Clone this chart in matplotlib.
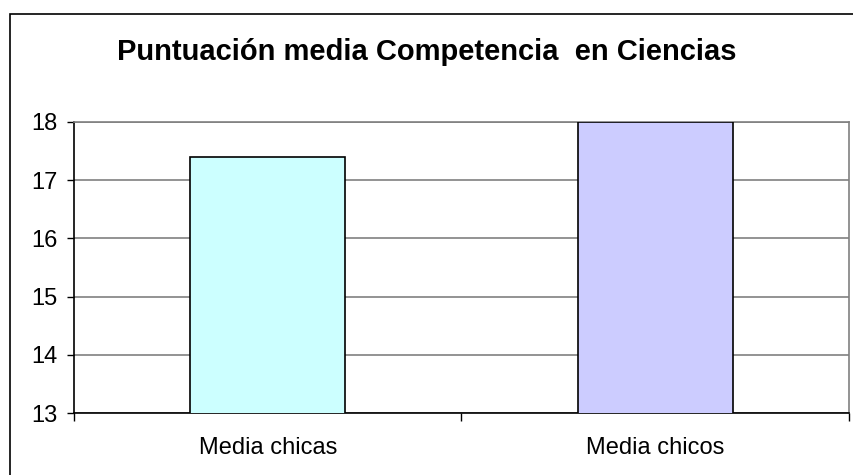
import matplotlib
matplotlib.use("Agg")
import matplotlib.pyplot as plt
from matplotlib.patches import Rectangle

categorias = ["Media chicas", "Media chicos"]
valores = [17.4, 18.0]
colores = ["#CCFFFF", "#CCCCFF"]
titulo = "Puntuación media Competencia  en Ciencias"

plt.rcParams['font.family'] = ['Liberation Sans', 'DejaVu Sans']

fig = plt.figure(figsize=[8.54, 4.75], dpi=100)
ax = fig.add_axes([74 / 854, 62 / 475, 775 / 854, 291 / 475])

x = list(range(len(categorias)))
ax.bar(x, valores, width=0.4, color=colores, edgecolor="black", linewidth=1.2, zorder=3)

ax.set_xlim(-0.5, len(categorias) - 0.5)
ax.set_ylim(13, 18)
ax.set_yticks([13, 14, 15, 16, 17, 18])
ax.yaxis.grid(True, color="#808080", linewidth=1.2, zorder=0)

ax.set_xticks(x)
ax.set_xticklabels(categorias, fontsize=17)
ax.tick_params(axis="x", length=0, pad=17)
ax.set_xticks([-0.5, 0.5, 1.5], minor=True)
ax.tick_params(axis="x", which="minor", length=6, width=1, direction="out")
ax.tick_params(axis="y", labelsize=17, length=5, width=1, direction="out", pad=7)

for lado in ["top", "right"]:
    ax.spines[lado].set_color("#808080")
    ax.spines[lado].set_linewidth(1.2)
for lado in ["left", "bottom"]:
    ax.spines[lado].set_color("black")
    ax.spines[lado].set_linewidth(1.2)

fig.text(0.5, 1 - 52 / 475, titulo, ha="center", va="center", fontsize=21, fontweight="bold")

# marco exterior (derecha y abajo quedan fuera de la imagen)
fig.patches.append(Rectangle((10 / 854, -0.1), 1.2, 1.1 - 14 / 475 + 0.0, transform=fig.transFigure,
                             fill=False, edgecolor="black", linewidth=1.2))

plt.savefig("out.png", dpi=100)
